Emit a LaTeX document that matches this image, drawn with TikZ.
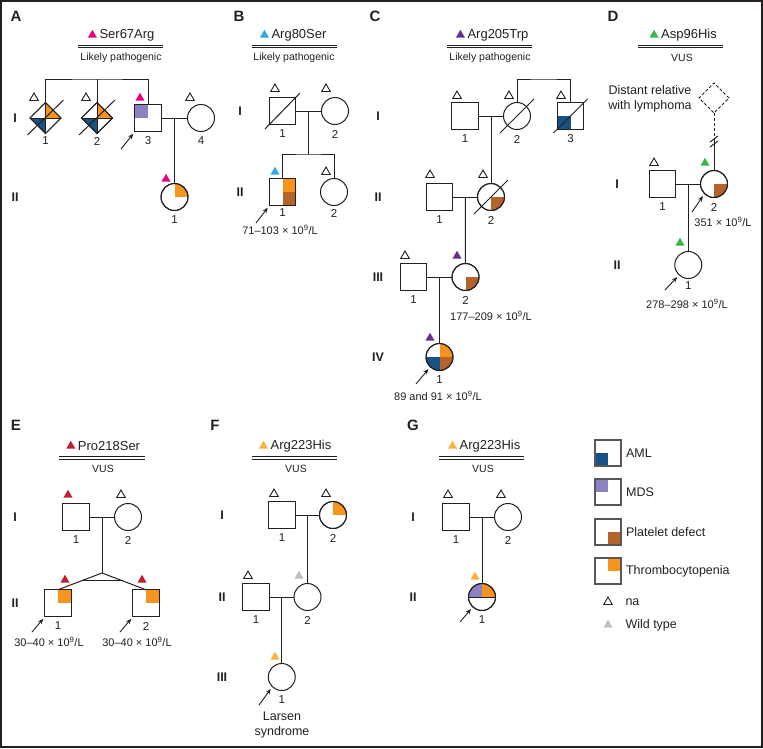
\documentclass[tikz,border=0pt]{standalone}
\usepackage{fontspec}
\setmainfont{Liberation Sans}
\usetikzlibrary{shapes.geometric,calc,positioning,arrows.meta}

\definecolor{ink}{RGB}{35,31,32}
\definecolor{aml}{RGB}{22,82,132}
\definecolor{mds}{RGB}{140,130,195}
\definecolor{plt}{RGB}{180,100,42}
\definecolor{thr}{RGB}{247,148,29}
\definecolor{cmag}{RGB}{230,0,126}
\definecolor{ccya}{RGB}{41,171,226}
\definecolor{cpur}{RGB}{102,45,145}
\definecolor{cgrn}{RGB}{57,181,74}
\definecolor{cred}{RGB}{190,30,45}
\definecolor{cyel}{RGB}{251,176,59}
\definecolor{cwt}{RGB}{190,190,190}

\tikzset{
  ind/.style={draw=ink, line width=1pt, fill=white, inner sep=0pt, outer sep=0pt},
  male/.style={ind, rectangle, minimum size=26.5pt},
  female/.style={ind, circle, minimum size=27pt},
  sexunk/.style={ind, diamond, minimum size=31pt},
  aff/.style n args={4}{path picture={
    \fill[#1] (path picture bounding box.center) rectangle (path picture bounding box.north west);
    \fill[#2] (path picture bounding box.center) rectangle (path picture bounding box.north east);
    \fill[#3] (path picture bounding box.center) rectangle (path picture bounding box.south west);
    \fill[#4] (path picture bounding box.center) rectangle (path picture bounding box.south east);},
    postaction={draw}},
  gt/.style={regular polygon, regular polygon sides=3, inner sep=0pt, minimum size=10.5pt, fill=#1},
  na/.style={regular polygon, regular polygon sides=3, inner sep=0pt, minimum size=10pt, draw=ink, line width=0.9pt},
  proband/.style={-{Stealth[length=5.5pt,width=4.5pt]}, line width=0.9pt},
  dblrule/.style={line width=0.9pt, double=white, double distance=1.8pt},
  panel/.style={font=\fontsize{15}{17}\selectfont\bfseries},
  gen/.style={font=\fontsize{12.5}{14}\selectfont\bfseries},
  ttl/.style={font=\fontsize{13}{15}\selectfont, inner sep=0pt},
  sub/.style={font=\fontsize{10.5}{12}\selectfont},
  idn/.style={font=\fontsize{11.5}{13}\selectfont},
  val/.style={font=\fontsize{11}{13}\selectfont},
  txt/.style={font=\fontsize{12.5}{15}\selectfont, align=center},
  legbox/.style={draw=ink!75, ink!75, line width=1.2pt, fill=white, inner sep=0pt, minimum size=26pt},
  legtxt/.style={font=\fontsize{12.5}{15}\selectfont, inner sep=0pt},
}

\begin{document}
\begin{tikzpicture}[x=1pt, y=-1pt, line width=1pt, ink]
\useasboundingbox (0,0) rectangle (763,748);
\draw[line width=1.5pt] (1,1) rectangle (762,747);

% A
\node[panel] (pA) at (16,16) {A};
\node[ttl] (ttlA) at (127,35) {Ser67Arg};
\node[gt=cmag, left=3pt of ttlA] (mutA) {};
\draw[dblrule] (78,46.5) -- (163,46.5);
\node[sub] (subA) at (121,58) {Likely pathogenic};
\node[gen] (gA1) at (15,118) {I};
\node[gen] (gA2) at (15,197) {II};
\node[sexunk, aff={white}{thr}{aml}{white}] (a1) at (45.5,118) {};
\node[sexunk, aff={white}{thr}{aml}{white}] (a2) at (97,118) {};
\node[male, aff={mds}{white}{white}{white}] (a3) at (148,118) {};
\node[female] (a4) at (201,118) {};
\node[female, aff={white}{thr}{white}{white}] (a5) at (174.5,197) {};
\draw[line width=0.6pt] (a1.north) -- (a1.south) (a1.west) -- (a1.east);
\draw[line width=0.6pt] (a2.north) -- (a2.south) (a2.west) -- (a2.east);
\draw (a1.center) ++(-18,17) -- ++(36,-35);
\draw (a2.center) ++(-18,17) -- ++(36,-35);
\coordinate (sibA) at (97,79);
\draw (a1.north) |- (sibA) -| (a3.north);
\draw (a2.north) -- (sibA);
\draw (a3) -- (a4);
\coordinate (mA) at ($(a3)!.5!(a4)$);
\draw (mA) -- (a5);
\node[na] at (34,98) {};
\node[na] at (86,98) {};
\node[gt=cmag] at (140,98) {};
\node[na] at (190,98) {};
\node[gt=cmag] at (166,179) {};
\node[idn] at (45.5,141) {1};
\node[idn] at (97,141) {2};
\node[idn] at (148,141) {3};
\node[idn] at (201,141) {4};
\node[idn] at (174.5,220) {1};
\coordinate (prA) at (121,149);
\draw[proband] (prA) -- ([shift={(-1.5,2.5)}]a3.south west);

% B
\node[panel] (pB) at (239,16) {B};
\node[ttl] (ttlB) at (299,35) {Arg80Ser};
\node[gt=ccya, left=3pt of ttlB] (mutB) {};
\draw[dblrule] (252,46.5) -- (337,46.5);
\node[sub] (subB) at (294,58) {Likely pathogenic};
\node[gen] (gB1) at (240,111) {I};
\node[gen] (gB2) at (240,192) {II};
\node[male] (b1) at (282.5,111) {};
\node[female] (b2) at (335,111) {};
\node[male, aff={white}{thr}{white}{plt}] (b3) at (282.5,192) {};
\node[female] (b4) at (334,192) {};
\draw (b1.center) ++(-17.5,18) -- ++(35,-36);
\draw (b1) -- (b2);
\coordinate (mB) at ($(b1)!.5!(b2)$);
\coordinate (sibB) at (308.75,154);
\draw (mB) -- (sibB);
\draw (b3.north) |- (sibB) -| (b4.north);
\node[na] at (275,89) {};
\node[na] at (326,89) {};
\node[gt=ccya] at (275,172) {};
\node[na] at (326,172) {};
\node[idn] at (282.5,134) {1};
\node[idn] at (335,134) {2};
\node[idn] at (282.5,213) {1};
\node[idn] at (334,213) {2};
\node[val] at (280,230) {71--103 × 10\textsuperscript{9}/L};
\coordinate (prB) at (256,223);
\draw[proband] (prB) -- ([shift={(-1.5,2.5)}]b3.south west);

% C
\node[panel] (pC) at (375,16) {C};
\node[ttl] (ttlC) at (498,35) {Arg205Trp};
\node[gt=cpur, left=3pt of ttlC] (mutC) {};
\draw[dblrule] (447,46.5) -- (532,46.5);
\node[sub] (subC) at (490,58) {Likely pathogenic};
\node[gen] (gC1) at (378,116) {I};
\node[gen] (gC2) at (378,197) {II};
\node[gen] (gC3) at (378,277) {III};
\node[gen] (gC4) at (378,357) {IV};
\node[male] (c1) at (465,116) {};
\node[female] (c2) at (517,116) {};
\node[male, aff={white}{white}{aml}{white}] (c3) at (570.5,116) {};
\node[male] (c4) at (439.5,197) {};
\node[female, aff={white}{white}{white}{plt}] (c5) at (491,197) {};
\node[male] (c6) at (413.5,277) {};
\node[female, aff={white}{white}{white}{plt}] (c7) at (465.5,277) {};
\node[female, aff={white}{thr}{aml}{plt}] (c8) at (439.5,357) {};
\draw (c2.center) ++(-17,17) -- ++(34,-34);
\draw (c3.center) ++(-17,17) -- ++(34,-34);
\draw (c5.center) ++(-17,17) -- ++(34,-34);
\coordinate (sibC) at (543,79);
\draw (c2.north) |- (sibC) -| (c3.north);
\draw (c1) -- (c2);
\coordinate (mC1) at ($(c1)!.5!(c2)$);
\draw (mC1) -- (c5);
\draw (c4) -- (c5);
\coordinate (mC2) at ($(c4)!.5!(c5)$);
\draw (mC2) -- (c7);
\draw (c6) -- (c7);
\coordinate (mC3) at ($(c6)!.5!(c7)$);
\draw (mC3) -- (c8);
\node[na] at (457,96) {};
\node[na] at (509,96) {};
\node[na] at (561,96) {};
\node[na] at (430,175) {};
\node[na] at (483,175) {};
\node[na] at (405,256) {};
\node[gt=cpur] at (457,256) {};
\node[gt=cpur] at (430,338) {};
\node[idn] at (465,139) {1};
\node[idn] at (517,139) {2};
\node[idn] at (570.5,139) {3};
\node[idn] at (439.5,220) {1};
\node[idn] at (491,220) {2};
\node[idn] at (413.5,300) {1};
\node[idn] at (465.5,300) {2};
\node[idn] at (439.5,380) {1};
\node[val] at (491,316) {177--209 × 10\textsuperscript{9}/L};
\node[val] at (438,396) {89 and 91 × 10\textsuperscript{9}/L};
\coordinate (prC) at (416,384);
\draw[proband] (prC) -- ([shift={(-1.5,2.5)}]c8.south west);

% D
\node[panel] (pD) at (613,16) {D};
\node[ttl] (ttlD) at (689,35) {Asp96His};
\node[gt=cgrn, left=3pt of ttlD] (mutD) {};
\draw[dblrule] (638,46.5) -- (723,46.5);
\node[sub] (subD) at (682,58) {VUS};
\node[gen] (gD1) at (617,184) {I};
\node[gen] (gD2) at (617,265) {II};
\node[sexunk, dash pattern=on 3pt off 2pt, minimum size=30pt] (d0) at (714,98) {};
\node[txt] (relD) at (650,98.5) {Distant relative\\with lymphoma};
\node[male] (d1) at (662.5,184) {};
\node[female, aff={white}{white}{white}{plt}] (d2) at (714,184) {};
\node[female] (d3) at (688.25,265) {};
\coordinate (brkD) at (714,139);
\draw[dash pattern=on 3pt off 2pt] (d0) -- (brkD);
\draw (brkD) -- (d2);
\draw (brkD) ++(-4,3) -- ++(8,-6);
\draw (brkD) ++(-4,8) -- ++(8,-6);
\draw (d1) -- (d2);
\coordinate (mD) at ($(d1)!.5!(d2)$);
\draw (mD) -- (d3);
\node[na] at (654,163) {};
\node[gt=cgrn] at (705,163) {};
\node[gt=cgrn] at (680,243) {};
\node[idn] at (662.5,207) {1};
\node[idn] at (714,207) {2};
\node[idn] at (688.25,286) {1};
\node[val] at (723,222) {351 × 10\textsuperscript{9}/L};
\node[val] at (687,304) {278--298 × 10\textsuperscript{9}/L};
\coordinate (prD1) at (692,212);
\draw[proband] (prD1) -- ([shift={(-1.5,2.5)}]d2.south west);
\coordinate (prD2) at (665,290);
\draw[proband] (prD2) -- ([shift={(-1.5,2.5)}]d3.south west);

% E
\node[panel] (pE) at (16,425) {E};
\node[ttl] (ttlE) at (109,446) {Pro218Ser};
\node[gt=cred, left=3pt of ttlE] (mutE) {};
\draw[dblrule] (59,458) -- (145,458);
\node[sub] (subE) at (103,469) {VUS};
\node[gen] (gE1) at (15,517) {I};
\node[gen] (gE2) at (15,603) {II};
\node[male] (e1) at (76,517) {};
\node[female] (e2) at (128,517) {};
\node[male, aff={white}{thr}{white}{white}] (e3) at (58,603) {};
\node[male, aff={white}{thr}{white}{white}] (e4) at (146,603) {};
\draw (e1) -- (e2);
\coordinate (mE) at ($(e1)!.5!(e2)$);
\coordinate (twE) at (102,573);
\draw (mE) -- (twE);
\draw (e3.north) -- (twE) -- (e4.north);
\draw ($(twE)!.47!(e3.north)$) -- ($(twE)!.47!(e4.north)$);
\node[gt=cred] at (68,495) {};
\node[na] at (121,495) {};
\node[gt=cred] at (65,580) {};
\node[gt=cred] at (142,580) {};
\node[idn] at (76,540) {1};
\node[idn] at (128,540) {2};
\node[idn] at (58,626) {1};
\node[idn] at (146,626) {2};
\node[val] at (49,642) {30--40 × 10\textsuperscript{9}/L};
\node[val] at (137,642) {30--40 × 10\textsuperscript{9}/L};
\coordinate (prE1) at (32,632);
\draw[proband] (prE1) -- ([shift={(-1.5,2.5)}]e3.south west);
\coordinate (prE2) at (120,632);
\draw[proband] (prE2) -- ([shift={(-1.5,2.5)}]e4.south west);

% F
\node[panel] (pF) at (215,425) {F};
\node[ttl] (ttlF) at (301,446) {Arg223His};
\node[gt=cyel, left=3pt of ttlF] (mutF) {};
\draw[dblrule] (252,458) -- (337,458);
\node[sub] (subF) at (296,469) {VUS};
\node[gen] (gF1) at (222,515) {I};
\node[gen] (gF2) at (222,597) {II};
\node[gen] (gF3) at (222,677) {III};
\node[male] (f1) at (282,515) {};
\node[female, aff={white}{thr}{white}{white}] (f2) at (333,515) {};
\node[male] (f3) at (256,597) {};
\node[female] (f4) at (307.5,597) {};
\node[female] (f5) at (281.75,677) {};
\draw (f1) -- (f2);
\coordinate (mF1) at ($(f1)!.5!(f2)$);
\draw (mF1) -- (f4);
\draw (f3) -- (f4);
\coordinate (mF2) at ($(f3)!.5!(f4)$);
\draw (mF2) -- (f5);
\node[na] at (274,494) {};
\node[na] at (326,494) {};
\node[na] at (248,576) {};
\node[gt=cwt] at (299,576) {};
\node[gt=cyel] at (275,657) {};
\node[idn] at (282,538) {1};
\node[idn] at (333,538) {2};
\node[idn] at (256,620) {1};
\node[idn] at (307.5,620) {2};
\node[idn] at (281.75,700) {1};
\node[txt] (larF) at (282,725) {Larsen\\syndrome};
\coordinate (prF) at (259,705);
\draw[proband] (prF) -- ([shift={(-1.5,2.5)}]f5.south west);

% G
\node[panel] (pG) at (413,425) {G};
\node[ttl] (ttlG) at (490,446) {Arg223His};
\node[gt=cyel, left=3pt of ttlG] (mutG) {};
\draw[dblrule] (439,458) -- (524,458);
\node[sub] (subG) at (483,469) {VUS};
\node[gen] (gG1) at (413,517) {I};
\node[gen] (gG2) at (413,597) {II};
\node[male] (g1) at (456,517) {};
\node[female] (g2) at (508,517) {};
\node[female, aff={mds}{thr}{white}{white}] (g3) at (482,597) {};
\draw[line width=0.6pt] (g3.west) -- (g3.east);
\draw (g1) -- (g2);
\coordinate (mG) at ($(g1)!.5!(g2)$);
\draw (mG) -- (g3);
\node[na] at (448,495) {};
\node[na] at (501,495) {};
\node[gt=cyel] at (475,577) {};
\node[idn] at (456,540) {1};
\node[idn] at (508,540) {2};
\node[idn] at (482,620) {1};
\coordinate (prG) at (460,622);
\draw[proband] (prG) -- ([shift={(-1.5,2.5)}]g3.south west);

% legend
\node[legbox, aff={white}{white}{aml}{white}] (kAML) at (608,453) {};
\node[legtxt, right=4pt of kAML] {AML};
\node[legbox, aff={mds}{white}{white}{white}] (kMDS) at (608,492) {};
\node[legtxt, right=4pt of kMDS] {MDS};
\node[legbox, aff={white}{white}{white}{plt}] (kPLT) at (608,532) {};
\node[legtxt, right=4pt of kPLT] {Platelet defect};
\node[legbox, aff={white}{thr}{white}{white}] (kTHR) at (608,571) {};
\node[legtxt, right=4pt of kTHR] {Thrombocytopenia};
\node[na] (kNA) at (608,602) {};
\node[legtxt, anchor=west] at (625,602) {na};
\node[gt=cwt] (kWT) at (608,625) {};
\node[legtxt, anchor=west] at (625,625) {Wild type};
\end{tikzpicture}
\end{document}
